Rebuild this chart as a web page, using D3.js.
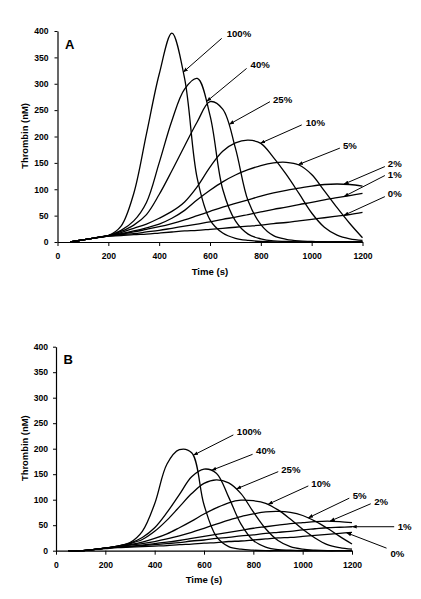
<!DOCTYPE html>
<html><head><meta charset="utf-8">
<script src="https://cdn.jsdelivr.net/npm/d3@7"></script>
<style>
body{margin:0;background:#fff;}
svg text{font-family:"Liberation Sans",Arial,sans-serif;font-weight:bold;fill:#000;}
</style></head><body>
<svg id="chart" width="421" height="599"></svg>
<script>
// ---------------- DATA ----------------
const times = [50,100,150,200,250,300,350,400,450,500,550,600,650,700,750,800,850,900,950,1000,1050,1100,1150,1200];
const seriesNames = ["100%","40%","25%","10%","5%","2%","1%","0%"];
const xTicks = [0,200,400,600,800,1000,1200];
const yTicks = [0,50,100,150,200,250,300,350,400];

// Panel A (thrombin nM)
const a100 = [0,4,8,12,30,92,205,318,396,310,120,42,17,7,3,1,0,0,0,0,0,0,0,0];
const a40  = [0,4,8,12,22,40,75,150,230,290,310,240,100,40,15,6,2,1,0,0,0,0,0,0];
const a25  = [0,4,8,12,20,32,52,90,135,182,228,266,252,178,78,33,12,5,2,1,0,0,0,0];
const a10  = [0,4,8,12,18,26,34,45,58,76,105,142,172,188,193,187,160,128,92,55,28,13,6,3];
const a5   = [0,4,8,12,16,21,27,34,45,60,80,98,114,127,137,145,150,151,146,128,97,65,35,8];
const a2   = [0,4,8,12,15,19,24,29,35,42,50,58,66,73,80,87,93,98,102,106,109,110,109,106];
const a1   = [0,4,8,11,14,16,19,22,26,30,34,38,43,47,52,57,62,66,71,75,80,84,88,92];
const a0   = [0,4,8,11,12,14,15,17,19,21,22,24,26,28,30,32,35,37,40,43,46,49,52,56];

// Panel B (thrombin nM)
const b100 = [0,0,2,5,9,16,38,92,170,198,192,90,28,8,3,1,0,0,0,0,0,0,0,0];
const b40  = [0,0,2,5,9,15,26,45,75,110,145,160,152,105,52,20,7,2,1,0,0,0,0,0];
const b25  = [0,0,2,5,9,14,22,38,60,86,112,132,139,133,112,76,43,20,8,3,1,0,0,0];
const b10  = [0,0,2,5,8,12,17,24,33,45,58,72,84,94,99,98,93,80,62,42,25,12,6,3];
const b5   = [0,0,2,5,8,11,14,18,23,29,36,44,52,60,67,72,76,77,75,69,58,44,28,13];
const b2   = [0,0,2,5,7,9,11,14,17,20,24,28,32,36,40,44,47,50,53,55,57,58,57,55];
const b1   = [0,0,2,5,7,8,10,12,14,16,19,21,24,26,29,31,34,36,38,41,43,45,46,47];
const b0   = [0,0,2,4,6,7,8,9,10,12,13,15,16,18,19,21,23,25,26,28,30,32,34,36];

// Label leader lines: start of leader (time, nM) and time where arrow touches the curve
const aLabelStartT = [646,744,836,961,1111,1288,1288,1288];
const aLabelStartV = [386,329,266,222,178,143,126,86];
const aTipT        = [495,587,676,799,947,1127,1127,1127];
const bLabelStartT = [719,797,901,1023,1189,1276,1371,1340];
const bLabelStartV = [227,189,155,127,103,92,47,5];
const bTipT        = [557,631,732,860,1023,1111,1200,1178];

// ---------------- LAYOUT ----------------
const svg = d3.select("#chart");
const defs = svg.append("defs");
defs.append("marker").attr("id","arr").attr("viewBox","0 0 8 6")
  .attr("refX",7.5).attr("refY",3).attr("markerWidth",5).attr("markerHeight",4)
  .attr("markerUnits","userSpaceOnUse").attr("orient","auto")
  .append("path").attr("d","M0,0L8,3L0,6Z").attr("fill","#000");

const panels = [
  {name:"A", series:[a100,a40,a25,a10,a5,a2,a1,a0], x0:57.5, x1:362.5, yT:31, yB:242,
   st:aLabelStartT, sv:aLabelStartV, tip:aTipT,
   tdx:[5,4,3,4,3,3,3,3], tdy:[-1,0,1,1,1,0,2,0]},
  {name:"B", series:[b100,b40,b25,b10,b5,b2,b1,b0], x0:56, x1:352, yT:346.7, yB:550.7,
   st:bLabelStartT, sv:bLabelStartV, tip:bTipT,
   tdx:[3.5,3.5,3,3,3.5,3.5,3.5,4], tdy:[0,0,1,1,1,1,3.3,8.4]}
];

panels.forEach(p => {
  const x = d3.scaleLinear().domain([0,1200]).range([p.x0,p.x1]);
  const y = d3.scaleLinear().domain([0,400]).range([p.yB,p.yT]);
  const g = svg.append("g");

  // axes
  const xa = g.append("g").attr("transform",`translate(0,${p.yB})`)
    .call(d3.axisBottom(x).tickValues(xTicks).tickSize(4).tickPadding(7).tickSizeOuter(0).tickFormat(d3.format("d")));
  const ya = g.append("g").attr("transform",`translate(${p.x0},0)`)
    .call(d3.axisLeft(y).tickValues(yTicks).tickSize(3).tickPadding(p.name==="A"?6:5).tickSizeOuter(0));
  [xa,ya].forEach(a=>{
    a.select(".domain").attr("stroke","#000").attr("stroke-width",1.2);
    a.selectAll(".tick line").attr("stroke","#000").attr("stroke-width",1);
    a.selectAll("text").attr("font-size","8.6px").attr("font-family",null);
  });

  // titles
  g.append("text").attr("x",(p.x0+p.x1)/2).attr("y",p.yB+32.5)
    .attr("text-anchor","middle").attr("font-size","9.6px").text("Time (s)");
  g.append("text").attr("transform",`translate(${p.name==="A"?27.5:28},${(p.yT+p.yB)/2-0.5}) rotate(-90)`)
    .attr("text-anchor","middle").attr("font-size","9.4px").text("Thrombin (nM)");
  g.append("text").attr("x",p.x0+7.5).attr("y",p.yT+17.5).attr("font-size","13px").text(p.name);

  // curves
  const line = d3.line().x((d,i)=>x(times[i])).y(d=>y(d)).curve(d3.curveCatmullRom.alpha(0.5));
  const paths = p.series.map(s =>
    g.append("path").datum(s).attr("d",line).attr("fill","none")
     .attr("stroke","#000").attr("stroke-width",1.3));

  // point on a rendered curve at a given x
  function yAtX(pathSel, px){
    const node = pathSel.node();
    const L = node.getTotalLength();
    let lo=0, hi=L;
    for(let k=0;k<40;k++){
      const mid=(lo+hi)/2;
      if(node.getPointAtLength(mid).x < px) lo=mid; else hi=mid;
    }
    return node.getPointAtLength((lo+hi)/2).y;
  }

  // labels
  seriesNames.forEach((nm,i)=>{
    const sx = x(p.st[i]), sy = y(p.sv[i]);
    const tx = x(Math.min(p.tip[i],1200));
    const ty = yAtX(paths[i], tx);
    g.append("line").attr("x1",sx).attr("y1",sy).attr("x2",tx).attr("y2",ty)
      .attr("stroke","#000").attr("stroke-width",1).attr("marker-end","url(#arr)");
    g.append("text").attr("x",sx+p.tdx[i]).attr("y",sy+p.tdy[i])
      .attr("font-size","9.6px").text(nm);
  });
});
</script>
</body></html>
